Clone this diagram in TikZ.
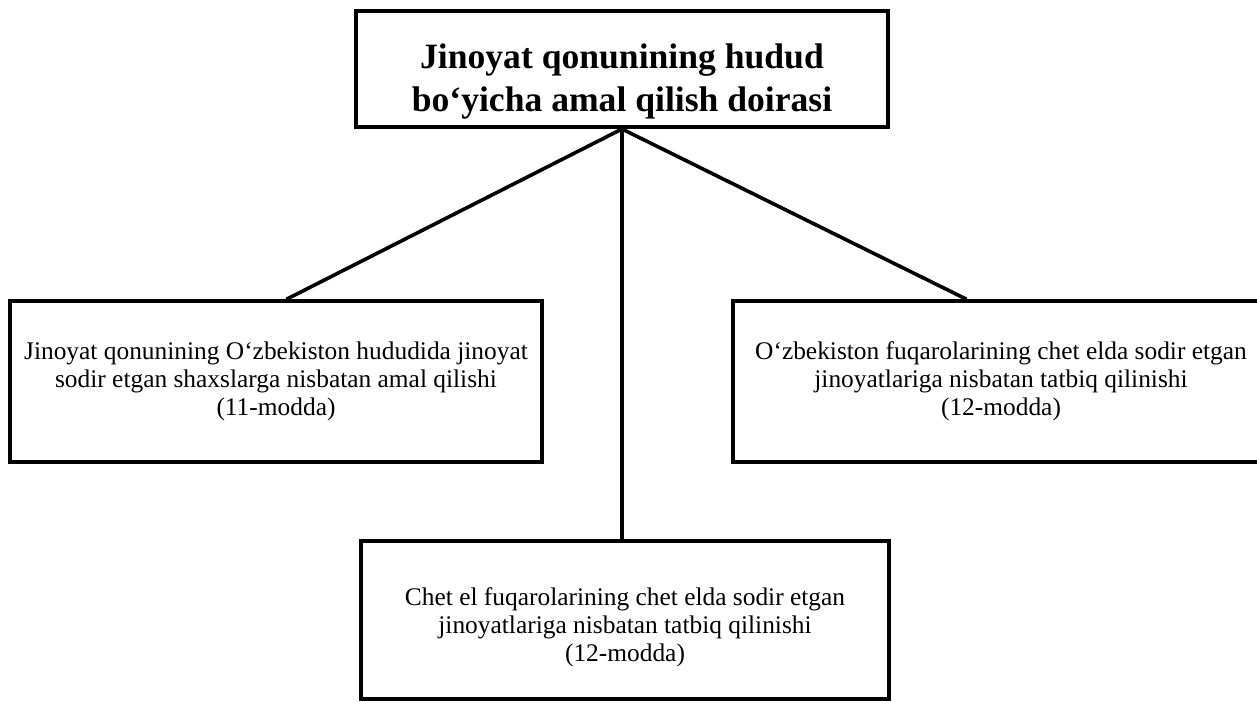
\documentclass[tikz,border=0pt]{standalone}
\usepackage{fontspec}
\setmainfont{Liberation Serif}
\usetikzlibrary{positioning}
\tikzset{
    bareL/.style={line width=1.8pt, line cap=round},
    headbox/.style={minimum width=266pt, minimum height=58pt, font=\bfseries\fontsize{17.8}{21.5}\selectfont}
}

\begin{document}
\begin{tikzpicture}[x=0.5pt, y=-0.5pt]
    \tikzstyle{every node}=[draw, rectangle, line width=2pt, align=center, inner sep=0pt, font=\fontsize{12.7}{13.9}\selectfont];
    \useasboundingbox (0,0) rectangle (1257,701);
    \coordinate (p0) at (622,69);
    \coordinate (p1) at (276,381.5);
    \coordinate (p2) at (1001,381.5);
    \coordinate (p3) at (625,620);
    \node[headbox] (b0) at (p0) {\rule{0pt}{25pt}Jinoyat qonunining hudud\\bo‘yicha amal qilish doirasi};
    \node[minimum width=266pt, minimum height=80.5pt] (b1) at (p1) {Jinoyat qonunining O‘zbekiston hududida jinoyat\\sodir etgan shaxslarga nisbatan amal qilishi\\(11-modda)};
    \node[minimum width=268pt, minimum height=80.5pt] (b2) at (p2) {O‘zbekiston fuqarolarining chet elda sodir etgan\\jinoyatlariga nisbatan tatbiq qilinishi\\(12-modda)};
    \node[minimum width=264pt, minimum height=79pt] (b3) at (p3) {\rule{0pt}{16pt}Chet el fuqarolarining chet elda sodir etgan\\jinoyatlariga nisbatan tatbiq qilinishi\\(12-modda)};
    \draw[bareL] (b0.south) -- ([xshift=5.5pt]b1.north);
    \draw[bareL] (b0.south) -- ([xshift=-17.5pt]b2.north);
    \draw[bareL] (b0.south) -- (b0.south |- b3.north);
\end{tikzpicture}
\end{document}
